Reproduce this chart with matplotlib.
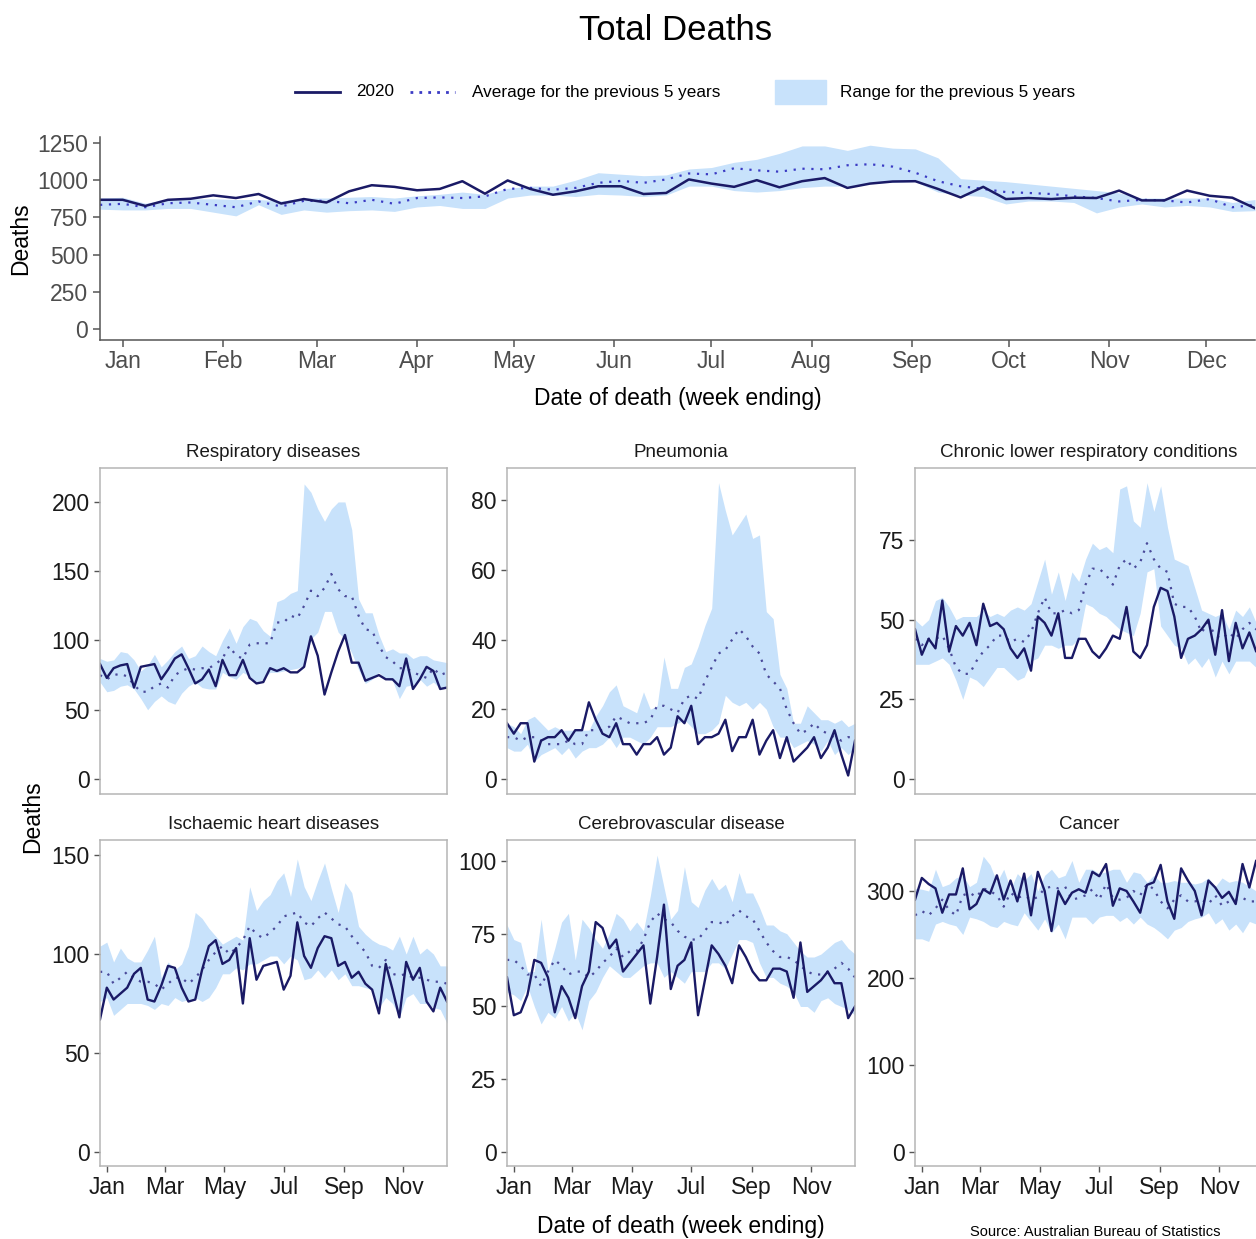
import matplotlib
matplotlib.use('Agg')
import matplotlib.pyplot as plt
import matplotlib.dates as mdates
from matplotlib.lines import Line2D
from matplotlib.patches import Rectangle
import pandas as pd

plt.rcParams['font.family'] = 'Liberation Sans'

# week ending dates (52 weeks)
weeks = pd.date_range('2019-12-25', periods=52, freq='7D')

# ---- Total deaths ----
total_2020 = [868, 868, 827, 868, 875, 898, 880, 907, 843, 873, 850, 925, 966, 955, 932, 941, 993, 909, 998, 941,
              902, 925, 959, 959, 907, 914, 1005, 977, 955, 1000, 952, 993, 1014, 948, 977, 991, 993, 941, 884, 955,
              873, 880, 873, 882, 880, 930, 864, 864, 930, 895, 882, 811]
total_avg = [834, 841, 818, 845, 850, 834, 818, 857, 823, 861, 861, 845, 868, 841, 880, 884, 880, 891, 941, 948,
             936, 948, 982, 995, 982, 1005, 1045, 1039, 1080, 1066, 1057, 1077, 1073, 1100, 1107, 1091, 1050, 993, 959, 941,
             920, 914, 907, 891, 880, 857, 868, 864, 850, 873, 818, 834]
total_hi = [880, 885, 845, 870, 875, 875, 870, 870, 860, 880, 880, 885, 890, 880, 895, 905, 920, 905, 945, 960,
            960, 1000, 1050, 1040, 1030, 1035, 1075, 1085, 1120, 1140, 1180, 1230, 1230, 1200, 1235, 1215, 1210, 1150, 1010, 1000,
            990, 975, 960, 945, 930, 915, 880, 880, 880, 880, 850, 870]
total_lo = [805, 800, 800, 810, 810, 785, 760, 835, 770, 800, 785, 795, 800, 790, 820, 830, 810, 810, 880, 900,
            900, 890, 905, 900, 890, 900, 960, 960, 930, 920, 930, 950, 960, 960, 980, 985, 990, 920, 900, 890,
            840, 860, 860, 850, 780, 820, 840, 820, 830, 820, 790, 795]

# ---- Respiratory diseases ----
resp_2020 = [83, 73, 80, 82, 83, 66, 81, 82, 83, 72, 79, 87, 90, 80, 69, 72, 79, 67, 86, 75,
             75, 86, 73, 69, 70, 80, 78, 80, 77, 77, 81, 103, 89, 61, 77, 92, 104, 84, 84, 71,
             73, 75, 72, 72, 67, 87, 65, 72, 81, 78, 65, 66]
resp_avg = [75, 72, 75, 76, 74, 68, 63, 63, 67, 69, 66, 75, 78, 80, 79, 80, 80, 83, 87, 96,
            89, 87, 97, 98, 98, 98, 113, 113, 118, 116, 125, 136, 132, 138, 148, 137, 132, 132, 118, 108,
            107, 96, 88, 85, 80, 80, 77, 75, 73, 80, 75, 77]
resp_hi = [87, 85, 86, 92, 91, 86, 78, 82, 90, 81, 86, 92, 96, 87, 89, 96, 92, 89, 100, 109,
           98, 110, 116, 114, 107, 103, 128, 130, 134, 136, 213, 207, 195, 186, 195, 200, 200, 180, 130, 120,
           120, 104, 92, 94, 91, 91, 87, 89, 89, 86, 85, 84]
resp_lo = [70, 63, 64, 67, 68, 65, 58, 50, 56, 60, 56, 54, 62, 67, 70, 66, 65, 65, 77, 74,
           72, 77, 74, 70, 72, 77, 77, 78, 79, 80, 82, 101, 106, 121, 121, 106, 101, 91, 79, 69,
           72, 77, 72, 71, 58, 67, 68, 72, 67, 70, 65, 67]

# ---- Pneumonia ----
pneu_2020 = [16, 13, 16, 16, 5, 11, 12, 12, 14, 11, 14, 14, 22, 17, 13, 12, 16, 10, 10, 7,
             10, 10, 12, 7, 9, 18, 16, 21, 10, 12, 12, 13, 17, 8, 12, 12, 17, 7, 11, 14,
             6, 12, 5, 7, 9, 12, 6, 9, 14, 7, 1, 11]
pneu_avg = [12, 12, 11, 12, 12, 11, 10, 10, 10, 11, 10, 10, 14, 14, 14, 15, 18, 17, 16, 16,
            16, 17, 21, 21, 20, 19, 23, 24, 23, 28, 32, 36, 37, 40, 43, 41, 38, 36, 30, 28,
            26, 20, 16, 13, 14, 16, 14, 13, 12, 11, 12, 12]
pneu_hi = [16, 15, 13, 17, 18, 16, 14, 15, 14, 14, 14, 14, 14, 18, 21, 25, 27, 21, 20, 19,
           25, 20, 21, 35, 26, 26, 32, 33, 38, 44, 49, 85, 77, 70, 73, 76, 69, 70, 48, 46,
           30, 26, 16, 16, 21, 19, 17, 17, 16, 17, 15, 16]
pneu_lo = [9, 8, 8, 10, 5, 7, 8, 9, 7, 9, 6, 8, 9, 9, 10, 12, 9, 12, 12, 11,
           10, 12, 15, 15, 15, 16, 17, 15, 13, 13, 14, 16, 24, 22, 21, 22, 20, 22, 20, 15,
           12, 12, 9, 10, 11, 10, 8, 11, 7, 9, 7, 9]

# ---- Chronic lower respiratory conditions ----
clrc_2020 = [47, 39, 44, 41, 56, 40, 48, 45, 49, 42, 55, 48, 49, 47, 41, 38, 41, 34, 51, 49,
             45, 52, 38, 38, 44, 44, 40, 38, 41, 45, 44, 54, 40, 38, 42, 54, 60, 59, 51, 38,
             44, 45, 47, 50, 39, 53, 37, 49, 41, 46, 40, 44]
clrc_avg = [44, 42, 44, 44, 45, 41, 35, 33, 33, 37, 40, 42, 45, 45, 43, 44, 43, 46, 52, 57,
            52, 52, 53, 52, 53, 61, 66, 66, 64, 61, 67, 69, 66, 68, 74, 69, 66, 65, 55, 54,
            54, 51, 46, 49, 45, 44, 46, 44, 47, 49, 47, 46]
clrc_hi = [50, 48, 50, 56, 57, 54, 50, 51, 51, 51, 53, 51, 52, 51, 53, 54, 53, 55, 62, 69,
           58, 65, 56, 65, 62, 69, 74, 72, 73, 71, 91, 92, 81, 79, 93, 84, 92, 79, 69, 68,
           67, 60, 53, 52, 51, 52, 47, 53, 51, 54, 49, 50]
clrc_lo = [36, 36, 36, 37, 38, 36, 31, 25, 32, 31, 29, 32, 35, 35, 33, 31, 32, 37, 38, 42,
           42, 41, 42, 42, 44, 55, 54, 52, 51, 49, 47, 46, 45, 52, 65, 66, 48, 45, 42, 41,
           36, 38, 35, 38, 32, 37, 33, 37, 37, 37, 35, 36]

# ---- Ischaemic heart diseases ----
ihd_2020 = [67, 83, 77, 80, 83, 90, 93, 77, 76, 84, 94, 93, 83, 76, 77, 92, 104, 107, 95, 97,
            103, 75, 108, 87, 94, 95, 96, 82, 89, 116, 99, 93, 103, 109, 108, 94, 96, 88, 91, 85,
            82, 70, 95, 82, 68, 96, 87, 93, 76, 71, 83, 76]
ihd_avg = [91, 91, 85, 88, 91, 88, 86, 86, 85, 82, 85, 88, 88, 85, 88, 92, 97, 101, 104, 100,
           103, 107, 114, 110, 108, 111, 114, 119, 120, 121, 116, 114, 118, 121, 118, 115, 114, 109, 105, 101,
           94, 93, 97, 90, 89, 90, 88, 88, 87, 86, 86, 85]
ihd_hi = [104, 106, 96, 103, 98, 96, 96, 102, 109, 88, 96, 92, 95, 104, 121, 118, 113, 109, 105, 107,
          109, 107, 134, 122, 127, 130, 137, 141, 129, 148, 134, 127, 137, 146, 133, 121, 136, 131, 114, 110,
          107, 105, 104, 102, 109, 100, 109, 100, 103, 100, 94, 94]
ihd_lo = [76, 78, 69, 72, 75, 75, 75, 74, 72, 75, 74, 78, 76, 77, 78, 76, 78, 83, 90, 90,
          93, 92, 95, 95, 97, 99, 99, 95, 99, 97, 87, 88, 92, 88, 92, 87, 90, 84, 84, 83,
          82, 73, 78, 75, 68, 78, 80, 75, 75, 73, 72, 65]

# ---- Cerebrovascular disease ----
cvd_2020 = [60, 47, 48, 54, 66, 65, 60, 48, 57, 53, 46, 57, 62, 79, 77, 70, 73, 62, 65, 68,
            71, 51, 67, 85, 56, 64, 66, 72, 47, 59, 71, 68, 64, 58, 71, 67, 62, 59, 59, 63,
            63, 62, 53, 72, 55, 57, 59, 62, 58, 58, 46, 50]
cvd_avg = [66, 66, 64, 61, 61, 57, 62, 66, 64, 61, 62, 62, 60, 62, 65, 67, 70, 67, 69, 69,
           73, 79, 82, 80, 79, 76, 74, 73, 73, 76, 79, 79, 78, 81, 83, 81, 80, 76, 72, 69,
           67, 67, 66, 64, 62, 61, 61, 62, 63, 65, 63, 60]
cvd_hi = [78, 73, 72, 62, 62, 80, 62, 70, 79, 82, 66, 80, 77, 73, 70, 75, 82, 80, 76, 79,
          76, 88, 102, 91, 80, 83, 98, 86, 84, 90, 94, 90, 92, 86, 96, 89, 89, 84, 78, 78,
          76, 75, 72, 69, 67, 67, 68, 70, 72, 73, 70, 68]
cvd_lo = [55, 54, 52, 57, 50, 44, 48, 46, 50, 45, 48, 42, 52, 55, 60, 64, 62, 60, 60, 62,
          64, 65, 65, 60, 62, 60, 58, 62, 62, 62, 65, 65, 63, 68, 73, 73, 72, 65, 60, 60,
          58, 57, 55, 50, 50, 48, 52, 53, 51, 50, 49, 47]

# ---- Cancer ----
canc_2020 = [290, 315, 308, 303, 275, 296, 296, 326, 279, 285, 302, 297, 318, 290, 312, 288, 320, 272, 322, 300,
             254, 300, 285, 298, 302, 298, 322, 317, 331, 283, 303, 300, 288, 275, 307, 310, 330, 288, 268, 326,
             312, 300, 272, 312, 304, 292, 299, 285, 331, 304, 335, 310]
canc_avg = [272, 277, 272, 280, 290, 278, 272, 295, 298, 293, 303, 300, 295, 282, 298, 292, 295, 290, 293, 303,
            305, 303, 305, 290, 292, 295, 302, 290, 308, 292, 290, 292, 300, 295, 308, 302, 288, 280, 290, 295,
            288, 288, 290, 285, 295, 283, 288, 290, 292, 288, 288, 285]
canc_hi = [303, 302, 300, 325, 305, 308, 315, 318, 305, 310, 340, 330, 310, 325, 302, 320, 312, 320, 300, 318,
           325, 315, 318, 335, 310, 325, 325, 320, 322, 325, 325, 310, 322, 320, 310, 318, 310, 310, 312, 310,
           310, 308, 310, 315, 305, 315, 310, 312, 310, 305, 300, 300]
canc_lo = [245, 245, 242, 262, 265, 262, 260, 250, 270, 268, 265, 260, 258, 265, 262, 260, 275, 265, 255, 268,
           252, 262, 245, 270, 270, 270, 262, 270, 272, 272, 265, 270, 262, 270, 262, 258, 252, 245, 255, 258,
           265, 268, 270, 275, 262, 268, 255, 262, 252, 265, 262, 265]

panel_titles = ['Respiratory diseases', 'Pneumonia', 'Chronic lower respiratory conditions',
                'Ischaemic heart diseases', 'Cerebrovascular disease', 'Cancer']
panel_data = [(resp_2020, resp_avg, resp_hi, resp_lo),
              (pneu_2020, pneu_avg, pneu_hi, pneu_lo),
              (clrc_2020, clrc_avg, clrc_hi, clrc_lo),
              (ihd_2020, ihd_avg, ihd_hi, ihd_lo),
              (cvd_2020, cvd_avg, cvd_hi, cvd_lo),
              (canc_2020, canc_avg, canc_hi, canc_lo)]
panel_ylim = [(-10.8, 224.5), (-4.3, 89.2), (-4.7, 97.6), (-7.1, 157.6), (-4.8, 107.2), (-16.1, 358.6)]
panel_yticks = [[0, 50, 100, 150, 200], [0, 20, 40, 60, 80], [0, 25, 50, 75],
                [0, 50, 100, 150], [0, 25, 50, 75, 100], [0, 100, 200, 300]]

NAVY = '#1a1a66'
DOTS = '#3b3bc4'
BAND = '#c8e2fb'

W, H = 1256, 1239
fig = plt.figure(figsize=(W / 100, H / 100), dpi=100)


def box(l, t, r, b):
    # pixel box -> figure fraction rect
    return [l / W, 1 - b / H, (r - l) / W, (b - t) / H]


# title + legend
fig.text(676 / W, 1 - 30 / H, 'Total Deaths', ha='center', va='center', fontsize=25)
ly = 1 - 92 / H
fig.add_artist(Line2D([295 / W, 340 / W], [ly, ly], color=NAVY, lw=2, transform=fig.transFigure))
fig.text(356 / W, ly, '2020', va='center', fontsize=12.3)
fig.add_artist(Line2D([410 / W, 455 / W], [ly, ly], color=DOTS, lw=2, ls=(0, (1, 2.2)),
                      transform=fig.transFigure))
fig.text(472 / W, ly, 'Average for the previous 5 years', va='center', fontsize=12.3)
fig.add_artist(Rectangle((775 / W, 1 - 104 / H), 51 / W, 24 / H, color=BAND, transform=fig.transFigure))
fig.text(840 / W, ly, 'Range for the previous 5 years', va='center', fontsize=12.3)

# top chart
ax = fig.add_axes(box(100, 137, 1255, 340))
ax.fill_between(weeks, total_lo, total_hi, color=BAND, lw=0)
ax.plot(weeks, total_avg, color=DOTS, lw=1.6, ls=(0, (1, 3)))
ax.plot(weeks, total_2020, color=NAVY, lw=1.8)
ax.set_xlim(weeks[0], weeks[-1])
ax.set_ylim(-74, 1290)
ax.set_yticks([0, 250, 500, 750, 1000, 1250])
ax.xaxis.set_major_locator(mdates.MonthLocator())
ax.xaxis.set_major_formatter(mdates.DateFormatter('%b'))
for s in ['top', 'right']:
    ax.spines[s].set_visible(False)
for s in ['left', 'bottom']:
    ax.spines[s].set_color('#555555')
    ax.spines[s].set_linewidth(1.1)
ax.tick_params(colors='#555555', labelcolor='#4d4d4d', labelsize=16.5, length=5, width=1.1)
ax.tick_params(axis='x', pad=2)
ax.set_ylabel('Deaths', fontsize=16.5, labelpad=4)
ax.set_xlabel('Date of death (week ending)', fontsize=16.5, labelpad=10)

# small multiples
cols = [(100, 447), (507, 855), (915, 1263)]
rows = [(468, 794), (840, 1166)]
for k in range(6):
    r, c = divmod(k, 3)
    a = fig.add_axes(box(cols[c][0], rows[r][0], cols[c][1], rows[r][1]))
    y20, yavg, yhi, ylo = panel_data[k]
    a.fill_between(weeks, ylo, yhi, color=BAND, lw=0)
    a.plot(weeks, yavg, color='#4a4a9a', lw=1.6, ls=(0, (1, 3)))
    a.plot(weeks, y20, color=NAVY, lw=1.7)
    a.set_xlim(weeks[0], weeks[-1])
    a.set_ylim(panel_ylim[k])
    a.set_yticks(panel_yticks[k])
    a.xaxis.set_major_locator(mdates.MonthLocator(bymonth=[1, 3, 5, 7, 9, 11]))
    a.xaxis.set_major_formatter(mdates.DateFormatter('%b'))
    for s in a.spines.values():
        s.set_color('#b5b5b5')
        s.set_linewidth(1.1)
    a.tick_params(colors='#555555', labelcolor='#1a1a1a', labelsize=16.5, length=4, width=1)
    if r == 0:
        a.tick_params(axis='x', bottom=False, labelbottom=False)
    a.set_title(panel_titles[k], fontsize=13.5, color='#1a1a1a', pad=8)

fig.text(33 / W, 1 - 817 / H, 'Deaths', rotation=90, ha='center', va='center', fontsize=16.5)
fig.text(681 / W, 1 - 1227 / H, 'Date of death (week ending)', ha='center', va='center', fontsize=16.5)
fig.text(970 / W, 1 - 1225 / H, 'Source: Australian Bureau of Statistics', va='top', fontsize=10.5)

fig.savefig('out.png', dpi=100)
